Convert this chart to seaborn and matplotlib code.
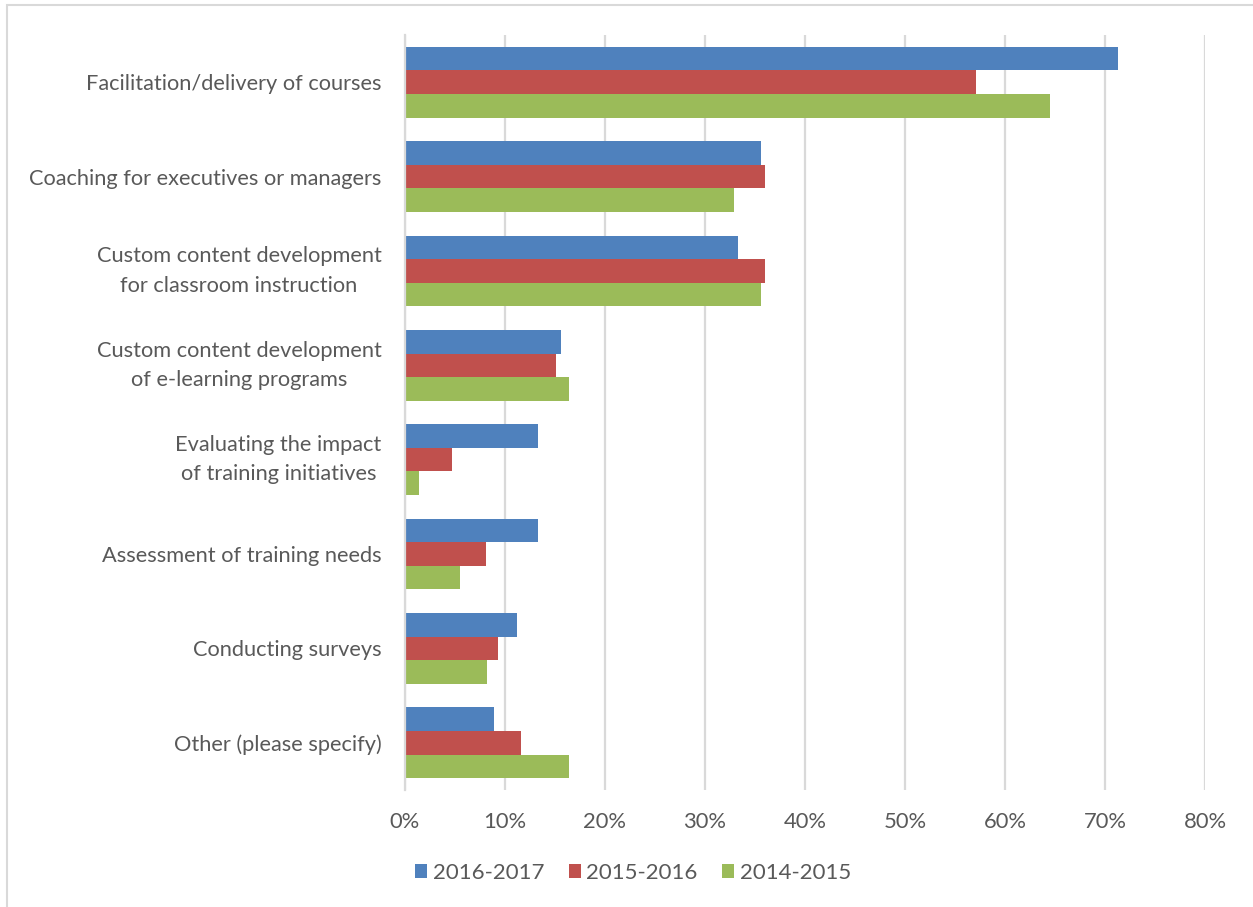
import matplotlib
matplotlib.use("Agg")
import matplotlib.pyplot as plt
from matplotlib.patches import Rectangle
from matplotlib.ticker import PercentFormatter
import pandas as pd
import seaborn as sns

categories = [
    "Facilitation/delivery of courses",
    "Coaching for executives or managers",
    "Custom content development\nfor classroom instruction",
    "Custom content development\nof e-learning programs",
    "Evaluating the impact\nof training initiatives",
    "Assessment of training needs",
    "Conducting surveys",
    "Other (please specify)",
]
years = ["2016-2017", "2015-2016", "2014-2015"]
share_2016_2017 = [71.3, 35.6, 33.3, 15.6, 13.3, 13.3, 11.2, 8.9]
share_2015_2016 = [57.1, 36.0, 36.0, 15.1, 4.7, 8.1, 9.3, 11.6]
share_2014_2015 = [64.5, 32.9, 35.6, 16.4, 1.4, 5.5, 8.2, 16.4]
colors = ["#4F81BD", "#C0504D", "#9BBB59"]
x_ticks = [0, 10, 20, 30, 40, 50, 60, 70, 80]

frames = []
for year, vals in zip(years, [share_2016_2017, share_2015_2016, share_2014_2015]):
    frames.append(pd.DataFrame({"Activity": categories, "Year": year, "Share": vals}))
df = pd.concat(frames, ignore_index=True)

sns.set_style("white")
plt.rcParams["font.family"] = ["Lato", "DejaVu Sans"]
text_color = "#595959"
grid_color = "#D9D9D9"

W, H = 1253, 907
fig = plt.figure(figsize=(W / 100, H / 100), dpi=100)
fig.patch.set_facecolor("white")

# outer chart frame
fig.patches.append(Rectangle((7 / W, -0.1), 1.2, 1 - 5 / H + 0.1,
                             transform=fig.transFigure, fill=False,
                             edgecolor=grid_color, linewidth=1.5))

ax = fig.add_axes([405 / W, 1 - 790 / H, 800 / W, (790 - 35) / H])
sns.barplot(data=df, y="Activity", x="Share", hue="Year", order=categories,
            hue_order=years, palette=colors, orient="h", width=0.75,
            gap=0, saturation=1, linewidth=0, ax=ax, legend=True)

ax.set_xlim(0, 80)
ax.set_xticks(x_ticks)
ax.xaxis.set_major_formatter(PercentFormatter(decimals=0))
ax.set_ylim(len(categories) - 0.5, -0.5)
ax.set_xlabel("")
ax.set_ylabel("")
ax.grid(axis="x", color=grid_color, linewidth=1.6)
ax.set_axisbelow(True)
for side in ["top", "right", "bottom"]:
    ax.spines[side].set_visible(False)
ax.spines["left"].set_color(grid_color)
ax.spines["left"].set_linewidth(1.6)

ax.tick_params(axis="x", length=0, pad=16, labelsize=15.8, labelcolor=text_color)
ax.tick_params(axis="y", length=0, pad=17, labelsize=15.7, labelcolor=text_color)
for lbl in ax.get_yticklabels():
    lbl.set_multialignment("center")
    lbl.set_linespacing(1.6)
    if "\n" in lbl.get_text():
        lbl.set_verticalalignment("center")

handles, labels = ax.get_legend_handles_labels()
ax.get_legend().remove()
fig.legend(handles, labels, loc="center", bbox_to_anchor=(633 / W, 1 - 873 / H),
           ncol=3, frameon=False, fontsize=16, labelcolor=text_color,
           handlelength=0.55, handleheight=0.55, handletextpad=0.25,
           columnspacing=1.1)

fig.savefig("out.png", dpi=100, facecolor="white")
